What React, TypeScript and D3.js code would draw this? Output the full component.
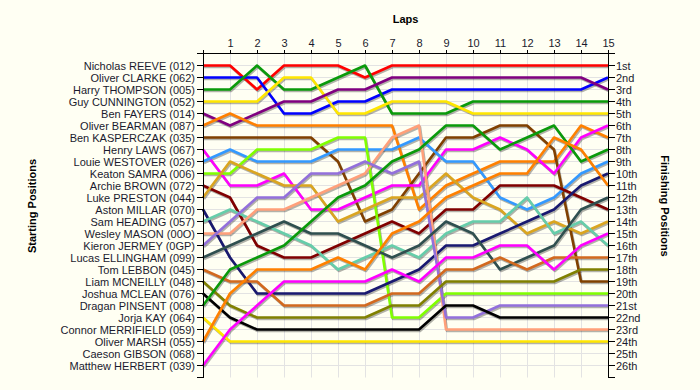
import React from 'react';
import * as d3 from 'd3';

// lap numbers along the top axis
const laps = [0, 1, 2, 3, 4, 5, 6, 7, 8, 9, 10, 11, 12, 13, 14, 15];

// starting grid, top to bottom
const startingNames = [
  'Nicholas REEVE (012)', 'Oliver CLARKE (062)', 'Harry THOMPSON (005)', 'Guy CUNNINGTON (052)',
  'Ben FAYERS (014)', 'Oliver BEARMAN (087)', 'Ben KASPERCZAK (035)', 'Henry LAWS (067)',
  'Louie WESTOVER (026)', 'Keaton SAMRA (006)', 'Archie BROWN (072)', 'Luke PRESTON (044)',
  'Aston MILLAR (070)', 'Sam HEADING (057)', 'Wesley MASON (00O)', 'Kieron JERMEY (0GP)',
  'Lucas ELLINGHAM (099)', 'Tom LEBBON (045)', 'Liam MCNEILLY (048)', 'Joshua MCLEAN (076)',
  'Dragan PINSENT (008)', 'Jorja KAY (064)', 'Connor MERRIFIELD (059)', 'Oliver MARSH (055)',
  'Caeson GIBSON (068)', 'Matthew HERBERT (039)',
];

const finishLabels = [
  '1st', '2nd', '3rd', '4th', '5th', '6th', '7th', '8th', '9th', '10th', '11th', '12th', '13th',
  '14th', '15th', '16th', '17th', '18th', '19th', '20th', '21st', '22nd', '23rd', '24th', '25th', '26th',
];

// position at each lap (lap 0 = grid)
const reeve      = [1, 1, 3, 1, 1, 1, 2, 1, 1, 1, 1, 1, 1, 1, 1, 1];
const clarke     = [2, 2, 2, 5, 5, 4, 4, 3, 3, 3, 3, 3, 3, 3, 3, 2];
const thompson   = [3, 3, 1, 3, 3, 2, 1, 5, 5, 5, 4, 4, 4, 4, 4, 4];
const cunnington = [4, 4, 4, 2, 2, 5, 5, 4, 4, 4, 5, 5, 5, 5, 5, 5];
const fayers     = [5, 6, 5, 4, 4, 3, 3, 2, 2, 2, 2, 2, 2, 2, 2, 3];
const bearman    = [6, 5, 6, 6, 6, 6, 6, 6, 13, 11, 10, 9, 9, 9, 6, 7];
const kasperczak = [7, 7, 7, 7, 7, 9, 14, 13, 10, 7, 7, 6, 6, 8, 19, 19];
const laws       = [8, 11, 11, 10, 13, 13, 12, 11, 11, 8, 8, 7, 8, 10, 7, 6];
const westover   = [9, 8, 9, 9, 9, 8, 8, 8, 7, 9, 9, 12, 13, 12, 10, 9];
const samra      = [10, 10, 8, 8, 8, 7, 7, 22, 22, 20, 20, 20, 20, 20, 20, 20];
const brown      = [11, 12, 16, 17, 17, 16, 15, 14, 15, 13, 13, 11, 11, 11, 12, 13];
const preston    = [12, 9, 10, 11, 11, 14, 13, 12, 12, 10, 12, 13, 15, 14, 15, 14];
const millar     = [13, 17, 20, 20, 20, 20, 20, 19, 18, 16, 16, 15, 14, 13, 11, 10];
const heading    = [14, 13, 14, 15, 16, 18, 17, 16, 17, 15, 14, 14, 12, 15, 14, 16];
const mason      = [15, 15, 13, 13, 12, 11, 10, 7, 6, 23, 23, 23, 23, 23, 23, 23];
const jermey     = [16, 14, 12, 12, 10, 10, 9, 10, 9, 22, 22, 21, 21, 21, 21, 21];
const ellingham  = [17, 16, 15, 14, 15, 15, 16, 17, 16, 14, 15, 18, 17, 16, 13, 12];
const lebbon     = [18, 19, 19, 21, 21, 21, 21, 20, 20, 18, 18, 17, 18, 17, 17, 17];
const mcneilly   = [19, 21, 22, 22, 22, 22, 22, 21, 21, 19, 19, 19, 19, 19, 18, 18];
const mclean     = [20, 22, 23, 23, 23, 23, 23, 23, 23, 21, 21, 22, 22, 22, 22, 22];
const pinsent    = [21, 18, 17, 16, 14, 12, 11, 9, 8, 6, 6, 8, 7, 6, 9, 8];
const kay        = [22, 24, 24, 24, 24, 24, 24, 24, 24, 24, 24, 24, 24, 24, 24, 24];
const marsh      = [24, 20, 18, 18, 18, 17, 18, 15, 14, 12, 11, 10, 10, 7, 8, 11];
const herbert    = [26, 23, 21, 19, 19, 19, 19, 18, 19, 17, 17, 16, 16, 18, 16, 15];

const series = [
  reeve, clarke, thompson, cunnington, fayers, bearman, kasperczak, laws, westover, samra,
  brown, preston, millar, heading, mason, jermey, ellingham, lebbon, mcneilly, mclean,
  pinsent, kay, marsh, herbert,
];

const lineColors = [
  '#ff0000', '#0000ff', '#0a9a0a', '#ffe600', '#800080', '#ff8000', '#804000', '#ff00ff',
  '#3399ff', '#80ff00', '#800000', '#daa520', '#191970', '#66cdaa', '#ffa07a', '#9370db',
  '#2f4f4f', '#d2691e', '#808000', '#000000', '#0a9a0a', '#ffe600', '#ff8000', '#ff00ff',
];

const width = 700;
const height = 390;
const font = '"Liberation Sans", Arial, sans-serif';
const textColor = '#1a1a2e';

export default function App() {
  const x = d3.scaleLinear().domain([0, 15]).range([203, 608]);
  const y = d3.scaleLinear().domain([0, 27]).range([53.5, 377.5]);

  const line = d3.line<number>()
    .x((_, i) => x(laps[i]))
    .y((d) => y(d));

  const posTicks = d3.range(0, 28);
  const rows = d3.range(1, 27);

  return (
    <svg width={width} height={height} style={{ position: 'absolute', left: 0, top: 0 }}
      fontFamily={font}>
      <rect x={0} y={0} width={width} height={height} fill="#fffff3" />

      {/* grid */}
      <g stroke="#e3e3e3" strokeWidth={1}>
        {laps.slice(1, -1).map((l) => (
          <line key={'v' + l} x1={x(l) + 0.5} x2={x(l) + 0.5} y1={y(0)} y2={y(27)} />
        ))}
        {rows.map((p) => (
          <line key={'h' + p} x1={x(0)} x2={x(15)} y1={y(p)} y2={y(p)} />
        ))}
      </g>

      {/* shadows */}
      <g fill="none" stroke="#000" strokeOpacity={0.3} strokeWidth={2.6}
        strokeLinejoin="round" transform="translate(1,1.5)">
        {series.map((s, i) => <path key={i} d={line(s) || ''} />)}
      </g>
      <g fill="none" strokeWidth={2.6} strokeLinejoin="round">
        {series.map((s, i) => <path key={i} d={line(s) || ''} stroke={lineColors[i]} />)}
      </g>

      {/* axes */}
      <g stroke="#000" strokeWidth={1} shapeRendering="crispEdges">
        <line x1={x(0) + 0.5} x2={x(15) + 0.5} y1={y(0)} y2={y(0)} />
        <line x1={x(0) + 0.5} x2={x(0) + 0.5} y1={y(0)} y2={y(27)} />
        <line x1={x(15) + 0.5} x2={x(15) + 0.5} y1={y(0)} y2={y(27)} />
        {laps.map((l) => (
          <line key={'t' + l} x1={x(l) + 0.5} x2={x(l) + 0.5} y1={y(0) - 4} y2={y(0)} />
        ))}
        {posTicks.map((p) => (
          <g key={'p' + p}>
            <line x1={x(0) - 6} x2={x(0) + 0.5} y1={y(p)} y2={y(p)} />
            <line x1={x(15) + 0.5} x2={x(15) + 7} y1={y(p)} y2={y(p)} />
          </g>
        ))}
      </g>

      {/* labels */}
      <g fontSize={11} fill={textColor}>
        {laps.slice(1).map((l) => (
          <text key={'lx' + l} x={x(l) + 0.5} y={47} textAnchor="middle">{l}</text>
        ))}
        {startingNames.map((n, i) => (
          <text key={'sn' + i} x={x(0) - 8} y={y(i + 1) + 4} textAnchor="end">{n}</text>
        ))}
        {finishLabels.map((n, i) => (
          <text key={'fl' + i} x={x(15) + 8} y={y(i + 1) + 4}>{n}</text>
        ))}
      </g>

      <g fontSize={11} fontWeight="bold" fill="#000">
        <text x={(x(0) + x(15)) / 2} y={23} textAnchor="middle">Laps</text>
        <text transform="translate(36,206) rotate(-90)" textAnchor="middle">Starting Positions</text>
        <text transform="translate(661,206) rotate(90)" textAnchor="middle">Finishing Positions</text>
      </g>
    </svg>
  );
}
